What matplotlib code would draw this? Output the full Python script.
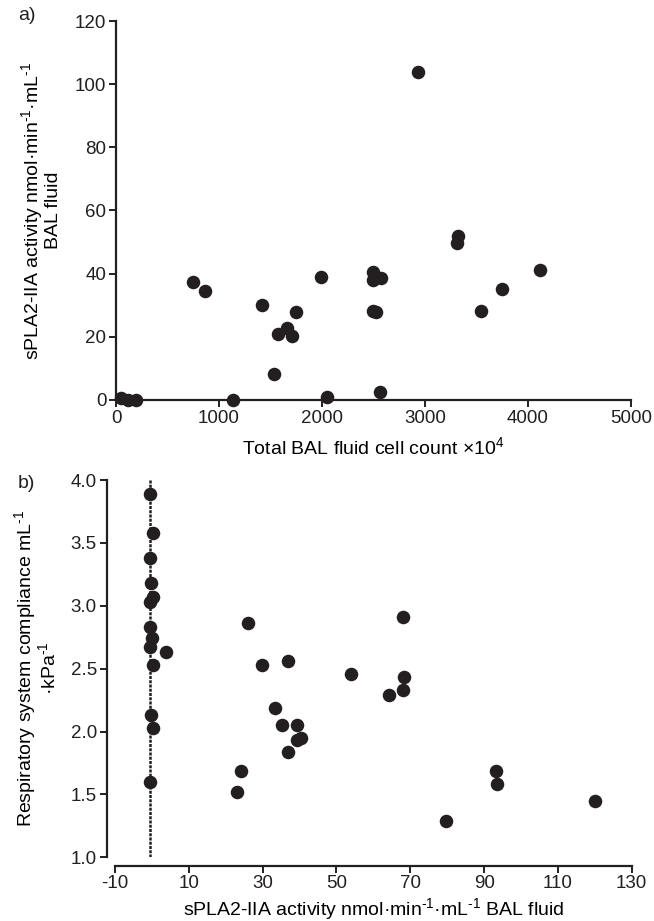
import matplotlib as mpl
mpl.use('Agg')
import matplotlib.pyplot as plt

# panel a: total BAL fluid cell count (x10^4) vs sPLA2-IIA activity
cell_count = [50, 120, 195, 745, 867, 1136, 1420, 1531, 1576, 1663, 1709,
              1744, 1990, 2050, 2498, 2498, 2570, 2498, 2524, 2563, 2935,
              3307, 3324, 3540, 3750, 4117]
spla2_a = [0.5, 0.0, 0.0, 37.3, 34.4, 0.0, 30.0, 8.2, 20.8, 22.9, 20.3,
           27.9, 39.0, 0.8, 40.5, 38.0, 38.6, 28.3, 27.8, 2.5, 104.0,
           49.7, 51.9, 28.1, 35.1, 41.1]

# panel b: sPLA2-IIA activity vs respiratory system compliance
spla2_b = [-0.4, 0.4, -0.4, -0.3, 0.4, -0.6, -0.6, 0.1, -0.4, 3.8, 0.2,
           -0.3, 0.3, -0.4, 26.1, 29.8, 37.0, 33.4, 35.3, 39.2, 39.2, 40.5,
           36.8, 24.1, 23.0, 68.0, 54.0, 68.2, 68.0, 64.3, 93.3, 93.6,
           120.1, 79.7]
compliance = [3.89, 3.58, 3.38, 3.18, 3.07, 3.03, 2.83, 2.74, 2.67, 2.63,
              2.53, 2.13, 2.03, 1.60, 2.86, 2.53, 2.56, 2.19, 2.05, 2.05,
              1.93, 1.95, 1.84, 1.69, 1.52, 2.91, 2.46, 2.43, 2.33, 2.29,
              1.69, 1.58, 1.45, 1.29]
zero_line = -0.6

a_xticks = [0, 1000, 2000, 3000, 4000, 5000]
a_yticks = [0, 20, 40, 60, 80, 100, 120]
b_xticks = [-10, 10, 30, 50, 70, 90, 110, 130]
b_yticks = [1.0, 1.5, 2.0, 2.5, 3.0, 3.5, 4.0]

ink = '#231f20'
plt.rcParams['font.family'] = ['Liberation Sans', 'DejaVu Sans']
plt.rcParams['mathtext.fontset'] = 'custom'
plt.rcParams['mathtext.rm'] = 'Liberation Sans'
plt.rcParams['mathtext.it'] = 'Liberation Sans'
plt.rcParams['axes.unicode_minus'] = False
plt.rcParams['font.size'] = 14
plt.rcParams['text.color'] = ink
plt.rcParams['xtick.color'] = ink
plt.rcParams['ytick.color'] = ink

inv = r'$^{\text{-1}}$'


def style_axes(ax):
    for side in ['top', 'right']:
        ax.spines[side].set_visible(False)
    for side in ['left', 'bottom']:
        ax.spines[side].set_linewidth(1.6)
        ax.spines[side].set_color(ink)
    ax.tick_params(direction='out', length=5, width=1.4, pad=2,
                   labelsize=13.5)


fig = plt.figure(figsize=(6.54, 9.21), dpi=100)
W, H = 654.0, 921.0

# panel a
ax1 = fig.add_axes([116 / W, 1 - 400 / H, (631 - 116) / W, (400 - 21) / H])
ax1.scatter(cell_count, spla2_a, s=95, color=ink, zorder=3, clip_on=False,
            linewidths=0)
ax1.set_xlim(0, 5000)
ax1.set_ylim(0, 120)
ax1.set_xticks(a_xticks)
ax1.set_yticks(a_yticks)
style_axes(ax1)
ax1.set_xlabel(r'Total BAL fluid cell count $\times$10$^{4}$', fontsize=14,
               labelpad=7)
ax1.set_ylabel('sPLA2-IIA activity nmol·min' + inv + '·mL' + inv +
               '\nBAL fluid', fontsize=14, labelpad=9, linespacing=1.0)
fig.text(18 / W, 1 - 15 / H, 'a)', fontsize=14, va='center')

# panel b
ax2 = fig.add_axes([115 / W, 1 - 857.3 / H, (631.7 - 115) / W,
                    (857.3 - 480) / H])
ax2.plot([zero_line, zero_line], [1.0, 4.0], linestyle=(0, (1.2, 0.5)),
         color=ink, linewidth=1.8, zorder=2)
ax2.scatter(spla2_b, compliance, s=95, color=ink, zorder=3, clip_on=False,
            linewidths=0)
ax2.set_xlim(-10, 130)
ax2.set_ylim(1.0, 4.0)
ax2.set_xticks(b_xticks)
ax2.set_yticks(b_yticks)
ax2.set_yticklabels(['%.1f' % v for v in b_yticks])
style_axes(ax2)
ax2.spines['left'].set_position(('outward', 6))
ax2.spines['bottom'].set_position(('outward', 6))
ax2.set_xlabel('sPLA2-IIA activity nmol·min' + inv + '·mL' + inv +
               ' BAL fluid', fontsize=14, labelpad=3)
ax2.set_ylabel('Respiratory system compliance mL' + inv + '\n·kPa' + inv,
               fontsize=14, labelpad=8, linespacing=1.0)
fig.text(18 / W, 1 - 483 / H, 'b)', fontsize=14, va='center')

plt.savefig('out.png', dpi=100)
plt.close()
